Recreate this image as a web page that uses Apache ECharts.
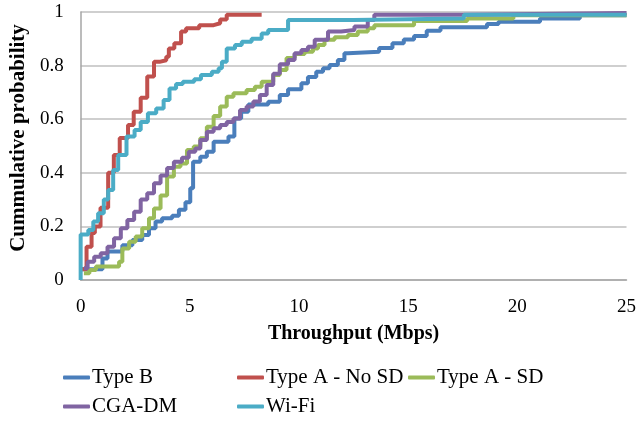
<!DOCTYPE html>
<html lang="en">
  <head>
    <meta charset="UTF-8" />
    <title>Throughput CDF</title>
    <script src="https://cdn.jsdelivr.net/npm/echarts@6.0.0/dist/echarts.min.js"></script>
    <style>
      html, body { margin: 0; padding: 0; background: #fff; }
    </style>
  </head>
  <body>
    <div id="main" style="width: 639px; height: 424px"></div>
    <script type="text/javascript">
      // Step points [throughput Mbps, cumulative probability]
      const typeB = [
        [0.05, 0.04], [1.0, 0.08], [1.23, 0.106], [1.91, 0.13], [2.37, 0.149], [2.82, 0.168],
        [3.13, 0.193], [3.43, 0.218], [3.73, 0.23], [4.19, 0.24], [4.5, 0.262], [4.8, 0.29],
        [5.02, 0.342], [5.15, 0.441], [5.48, 0.46], [5.78, 0.479], [6.09, 0.516], [6.77, 0.535],
        [7.04, 0.603], [7.35, 0.628], [7.68, 0.655], [8.59, 0.665], [9.12, 0.69], [9.5, 0.712],
        [10.11, 0.734], [10.41, 0.757], [10.79, 0.777], [11.1, 0.79], [11.4, 0.802], [11.78, 0.821],
        [12.08, 0.846], [12.24, 0.852], [13.67, 0.866], [14.28, 0.883], [14.8, 0.897], [15.27, 0.91],
        [15.85, 0.93], [16.48, 0.943], [18.61, 0.955], [19.14, 0.964], [21.04, 0.976], [22.86, 0.988],
        [25, 0.988]
      ];
      const typeANoSD = [
        [0.05, 0.04], [0.27, 0.124], [0.5, 0.175], [0.65, 0.2], [0.91, 0.27], [1.26, 0.4],
        [1.52, 0.466], [1.79, 0.53], [2.17, 0.578], [2.43, 0.628], [2.75, 0.68], [3.05, 0.759],
        [3.36, 0.814], [3.61, 0.82], [3.92, 0.833], [4.04, 0.864], [4.29, 0.883], [4.6, 0.927],
        [4.83, 0.939], [5.43, 0.951], [6.09, 0.958], [6.39, 0.972], [6.69, 0.99], [8.29, 0.99]
      ];
      const typeASD = [
        [0.15, 0.025], [0.4, 0.037], [0.7, 0.05], [1.76, 0.068], [1.91, 0.118], [2.22, 0.143],
        [2.52, 0.162], [2.82, 0.193], [3.13, 0.23], [3.36, 0.267], [3.66, 0.315], [3.96, 0.386],
        [4.27, 0.423], [4.57, 0.435], [4.87, 0.485], [5.18, 0.498], [5.48, 0.529], [5.78, 0.572],
        [6.09, 0.612], [6.39, 0.647], [6.69, 0.684], [7.0, 0.697], [7.6, 0.709], [7.98, 0.721],
        [8.29, 0.74], [8.82, 0.765], [9.12, 0.784], [9.43, 0.828], [9.8, 0.843], [10.26, 0.852],
        [10.64, 0.864], [10.87, 0.877], [11.17, 0.896], [11.63, 0.906], [12.24, 0.914], [12.69, 0.927],
        [13.15, 0.939], [13.45, 0.951], [15.27, 0.966], [17.7, 0.976], [19.82, 0.988], [25, 0.988]
      ];
      const cgaDM = [
        [0.15, 0.044], [0.32, 0.068], [0.62, 0.087], [0.92, 0.1], [1.23, 0.124], [1.53, 0.156],
        [1.84, 0.193], [2.14, 0.224], [2.45, 0.255], [2.75, 0.3], [3.05, 0.324], [3.36, 0.361],
        [3.66, 0.39], [3.96, 0.418], [4.27, 0.441], [4.64, 0.456], [4.95, 0.479], [5.25, 0.491],
        [5.48, 0.522], [5.78, 0.553], [6.09, 0.566], [6.39, 0.578], [6.69, 0.59], [7.0, 0.603],
        [7.3, 0.634], [7.6, 0.647], [7.91, 0.666], [8.21, 0.69], [8.52, 0.728], [8.82, 0.77],
        [9.12, 0.805], [9.5, 0.821], [9.8, 0.846], [10.11, 0.858], [10.41, 0.87], [10.72, 0.896],
        [11.33, 0.927], [11.93, 0.933], [12.54, 0.946], [13.15, 0.97], [13.45, 0.99], [17.6, 0.996],
        [25, 0.996]
      ];
      const wifi = [
        [0, 0], [0, 0.17], [0.35, 0.187], [0.58, 0.218], [0.8, 0.249], [1.06, 0.3], [1.26, 0.336],
        [1.49, 0.41], [1.72, 0.466], [2.1, 0.535], [2.47, 0.56], [2.75, 0.59], [3.08, 0.622],
        [3.46, 0.64], [3.8, 0.672], [4.07, 0.715], [4.37, 0.731], [4.68, 0.74], [5.2, 0.749],
        [5.51, 0.765], [6.01, 0.777], [6.32, 0.79], [6.47, 0.814], [6.69, 0.864], [7.07, 0.877],
        [7.38, 0.889], [7.83, 0.9], [8.29, 0.92], [8.59, 0.933], [9.5, 0.97], [12.5, 0.976],
        [17.55, 0.99], [25, 0.99]
      ];

      const seriesNames = ["Type B", "Type A - No SD", "Type A - SD", "CGA-DM", "Wi-Fi"];
      const seriesData = [typeB, typeANoSD, typeASD, cgaDM, wifi];
      const colors = ["#4a7ebb", "#c0504d", "#9bbb59", "#8064a2", "#4bacc6"];

      const font = "Liberation Serif";
      let myChart = echarts.init(document.getElementById("main"));

      // legend is laid out in Excel-like fixed columns, so one legend per column
      const legendBase = {
        orient: "vertical",
        icon: "roundRect",
        itemWidth: 27,
        itemHeight: 4,
        itemGap: 8,
        padding: 0,
        top: 367,
        textStyle: { fontFamily: font, fontSize: 21, color: "#000", padding: [0, 0, 0, -3] }
      };

      let options = {
        animation: false,
        color: colors,
        grid: { left: 78, right: 12, top: 12, bottom: 144 },
        legend: [
          Object.assign({}, legendBase, { left: 63, data: ["Type B", "CGA-DM"] }),
          Object.assign({}, legendBase, { left: 237, data: ["Type A - No SD", "Wi-Fi"] }),
          Object.assign({}, legendBase, { left: 408, data: ["Type A - SD"] })
        ],
        xAxis: {
          type: "value",
          min: 0,
          max: 25,
          interval: 5,
          name: "Throughput (Mbps)",
          nameLocation: "middle",
          nameGap: 44,
          nameTextStyle: { fontFamily: font, fontSize: 20, fontWeight: "bold", color: "#000" },
          axisLine: { lineStyle: { color: "#a6a6a6", width: 1.5 } },
          axisTick: { show: false },
          axisLabel: { fontFamily: font, fontSize: 19, color: "#000", margin: 18 },
          splitLine: { show: false }
        },
        yAxis: {
          type: "value",
          min: 0,
          max: 1,
          interval: 0.2,
          name: "Cummulative probability",
          nameLocation: "middle",
          nameGap: 47,
          nameTextStyle: {
            fontFamily: font, fontSize: 21, fontWeight: "bold", color: "#000",
            padding: [0, 0, 0, 16]
          },
          axisLine: { show: true, lineStyle: { color: "#a6a6a6", width: 1.5 } },
          axisTick: { show: false },
          axisLabel: { fontFamily: font, fontSize: 19, color: "#000", margin: 17 },
          splitLine: { lineStyle: { color: "#bfbfbf", width: 1.5 } }
        },
        series: seriesNames.map((name, i) => ({
          name: name,
          type: "line",
          step: "end",
          symbol: "none",
          data: seriesData[i],
          lineStyle: { width: 4, color: colors[i] },
          itemStyle: { color: colors[i] }
        }))
      };

      myChart.setOption(options);
    </script>
  </body>
</html>
